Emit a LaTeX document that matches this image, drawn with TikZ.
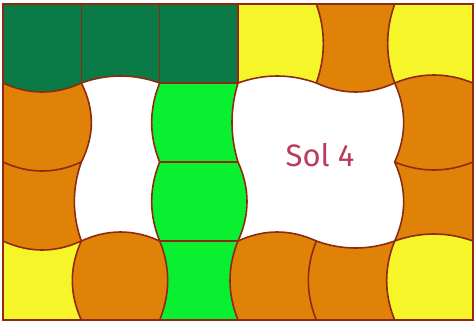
\documentclass[tikz,border=0pt]{standalone}
\usepackage{fontspec}
\newfontfamily\solfont{Fira Sans}
\definecolor{dg}{HTML}{0A7A46}
\definecolor{bg}{HTML}{08F030}
\definecolor{yl}{HTML}{F5F52A}
\definecolor{og}{HTML}{E08208}
\definecolor{ln}{HTML}{8E2A12}
\definecolor{tx}{HTML}{BC3A5E}
\tikzset{edge/.style={draw=ln,line width=1.6pt,line cap=round}}
\begin{document}
\begin{tikzpicture}[x=1pt,y=-1pt]
\useasboundingbox (0,0) rectangle (476,322);
\def\Hoff{{0,0,0,0,0,0, 9,-7,0,-7,9,-8, 9,0,0,0,0,8, 9,-9,0,-9,7,-7, 0,0,0,0,0,0}}
\def\Voff{{0,0,0,0, 0,10,-7,-9, 0,-8,-8,8, 0,-6,9,-8, 7,0,0,-8, -7,9,9,-8, 0,0,0,0}}
% tiles
\foreach \c [count=\k from 0] in {dg,dg,dg,yl,og,yl, og,white,bg,white,white,og, og,white,bg,white,white,og, yl,og,bg,og,og,yl}{
  \pgfmathtruncatemacro\i{floor(\k/6)}
  \pgfmathtruncatemacro\j{\k-6*\i}
  \pgfmathsetmacro\xa{3+\j*470/6}
  \pgfmathsetmacro\xb{\xa+470/6}
  \pgfmathsetmacro\ya{4+\i*79}
  \pgfmathsetmacro\yb{\ya+79}
  \pgfmathsetmacro\ht{\Hoff[\i*6+\j]*4/3}
  \pgfmathsetmacro\hb{\Hoff[(\i+1)*6+\j]*4/3}
  \pgfmathsetmacro\vl{\Voff[\j*4+\i]*4/3}
  \pgfmathsetmacro\vr{\Voff[(\j+1)*4+\i]*4/3}
  \path[fill=\c] (\xa,\ya) .. controls ({\xa+26.111},{\ya+\ht}) and ({\xb-26.111},{\ya+\ht}) .. (\xb,\ya)
    .. controls ({\xb+\vr},{\ya+26.333}) and ({\xb+\vr},{\yb-26.333}) .. (\xb,\yb)
    .. controls ({\xb-26.111},{\yb+\hb}) and ({\xa+26.111},{\yb+\hb}) .. (\xa,\yb)
    .. controls ({\xa+\vl},{\yb-26.333}) and ({\xa+\vl},{\ya+26.333}) .. cycle;
}
% horizontal edges
\foreach \i/\j in {1/0,1/1,1/2,1/3,1/4,1/5, 2/0,2/2,2/5, 3/0,3/1,3/2,3/3,3/4,3/5}{
  \pgfmathsetmacro\xa{3+\j*470/6}
  \pgfmathsetmacro\xb{\xa+470/6}
  \pgfmathsetmacro\y{4+\i*79}
  \pgfmathsetmacro\o{\Hoff[\i*6+\j]*4/3}
  \draw[edge] (\xa,\y) .. controls ({\xa+26.111},{\y+\o}) and ({\xb-26.111},{\y+\o}) .. (\xb,\y);
}
% vertical edges
\foreach \j/\i in {1/0,1/1,1/2,1/3, 2/0,2/1,2/2,2/3, 3/0,3/1,3/2,3/3, 4/0,4/3, 5/0,5/1,5/2,5/3}{
  \pgfmathsetmacro\x{3+\j*470/6}
  \pgfmathsetmacro\ya{4+\i*79}
  \pgfmathsetmacro\yb{\ya+79}
  \pgfmathsetmacro\o{\Voff[\j*4+\i]*4/3}
  \draw[edge] (\x,\ya) .. controls ({\x+\o},{\ya+26.333}) and ({\x+\o},{\yb-26.333}) .. (\x,\yb);
}
\draw[edge,line width=2pt] (3,4) rectangle (473,320);
\node[text=tx,font=\solfont\fontsize{31}{36}\selectfont] (sol) at (320,155.5) {Sol 4};
\end{tikzpicture}
\end{document}
